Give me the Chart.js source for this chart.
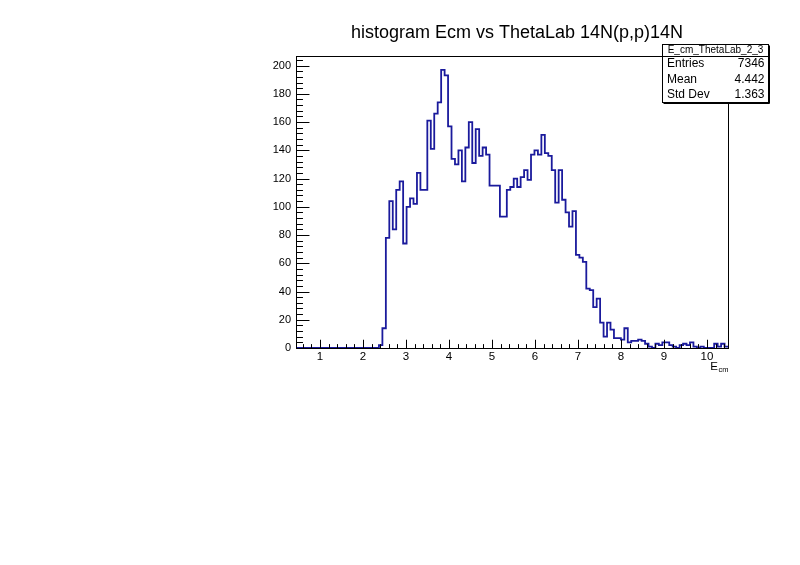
<!DOCTYPE html>
<html>
<head>
<meta charset="utf-8">
<title>histogram Ecm vs ThetaLab 14N(p,p)14N</title>
<script src="https://cdn.jsdelivr.net/npm/chart.js@4/dist/chart.umd.min.js"></script>
<style>
  html, body { margin: 0; padding: 0; background: #fff; }
  #wrap { width: 800px; height: 565px; }
</style>
</head>
<body>
<div id="wrap"><canvas id="ecmChart" width="800" height="565"></canvas></div>
<script>
// histogram range and bin contents
var xMin = 0.44;
var xMax = 10.49;
var binCounts = [
  0, 0, 0, 0, 0, 0, 0, 0, 0, 0,
  0, 0, 0, 0, 0, 0, 0, 0, 0, 0,
  0, 0, 0, 0, 2, 14, 78, 104, 84, 112,
  118, 74, 100, 106, 102, 124, 112, 112, 161, 141,
  166, 174, 197, 193, 157, 134, 130, 140, 118, 142,
  160, 131, 155, 136, 142, 137, 115, 115, 115, 93,
  93, 112, 114, 120, 114, 121, 126, 119, 137, 140,
  137, 151, 138, 136, 126, 103, 126, 105, 96, 86,
  97, 66, 64, 61, 42, 41, 29, 35, 18, 8,
  18, 13, 7, 7, 6, 14, 4, 5, 5, 6,
  5, 3, 1, 0, 3, 2, 4, 4, 2, 1,
  0, 2, 3, 2, 4, 1, 0, 1, 0, 0,
  0, 3, 1, 3, 1
];
var xTickLabels = [1, 2, 3, 4, 5, 6, 7, 8, 9, 10];
var yTickLabels = [0, 20, 40, 60, 80, 100, 120, 140, 160, 180, 200];
var yMax = 207;

var histTitle = "histogram Ecm vs ThetaLab 14N(p,p)14N";
var statsName = "E_cm_ThetaLab_2_3";
var statsLabels = ["Entries", "Mean", "Std Dev"];
var statsValues = ["7346", "4.442", "1.363"];

document.addEventListener("DOMContentLoaded", function () {
  var binWidth = (xMax - xMin) / binCounts.length;

  // one point per low bin edge, plus the closing upper edge
  var points = binCounts.map(function (c, i) {
    return { x: xMin + i * binWidth, y: c };
  });
  points.push({ x: xMax, y: binCounts[binCounts.length - 1] });

  var font = "Liberation Sans, Arial, Helvetica, sans-serif";

  // ROOT style frame: box, inward ticks, stats box, title
  var rootFrame = {
    id: "rootFrame",
    afterDatasetsDraw: function (chart) {
      var ctx = chart.ctx;
      var a = chart.chartArea;
      var xs = chart.scales.x;
      var ys = chart.scales.y;
      var L = Math.round(a.left) + 0.5, R = Math.round(a.right) + 0.5;
      var T = Math.round(a.top) + 0.5, B = Math.round(a.bottom) + 0.5;

      ctx.save();
      ctx.strokeStyle = "#000";
      ctx.lineWidth = 1;
      ctx.strokeRect(L, T, R - L, B - T);

      // x ticks (major on labels, minor every 0.2)
      ctx.beginPath();
      var xTickLen = 0.03 * (B - T);
      for (var v = Math.ceil(xMin / 0.2) * 0.2; v <= xMax + 1e-9; v += 0.2) {
        var major = Math.abs(v - Math.round(v)) < 1e-6;
        var px = Math.round(xs.getPixelForValue(v)) + 0.5;
        ctx.moveTo(px, B);
        ctx.lineTo(px, B - (major ? xTickLen : xTickLen / 2));
      }
      // y ticks (major every 20, minor every 4)
      var yTickLen = 0.03 * (R - L);
      for (var w = 0; w <= yMax; w += 4) {
        var py = Math.round(ys.getPixelForValue(w)) + 0.5;
        ctx.moveTo(L, py);
        ctx.lineTo(L + (w % 20 === 0 ? yTickLen : yTickLen / 2), py);
      }
      ctx.stroke();

      // title
      ctx.fillStyle = "#000";
      ctx.font = "18px " + font;
      ctx.textAlign = "center";
      ctx.textBaseline = "alphabetic";
      ctx.fillText(histTitle, 517, 38);

      // axis title E_cm
      ctx.textAlign = "right";
      ctx.font = "7.5px " + font;
      var sub = ctx.measureText("cm").width;
      ctx.fillText("cm", R, 371.5);
      ctx.font = "11.5px " + font;
      ctx.fillText("E", R - sub - 0.5, 369.5);

      // stats box
      var bx = 662.5, by = 44.5, bw = 106, bh = 58;
      ctx.fillStyle = "#fff";
      ctx.fillRect(bx, by, bw, bh);
      ctx.strokeRect(bx, by, bw, bh);
      ctx.beginPath();
      ctx.moveTo(bx + 1, by + bh + 1);
      ctx.lineTo(bx + bw + 1, by + bh + 1);
      ctx.lineTo(bx + bw + 1, by + 1);
      ctx.moveTo(bx, 56.5);
      ctx.lineTo(bx + bw, 56.5);
      ctx.stroke();

      ctx.fillStyle = "#000";
      ctx.textBaseline = "middle";
      ctx.textAlign = "center";
      ctx.font = "10px " + font;
      ctx.fillText(statsName, bx + bw / 2, 50.5);
      ctx.font = "12px " + font;
      var rowY = [64, 79.5, 95];
      statsLabels.forEach(function (lab, i) {
        ctx.textAlign = "left";
        ctx.fillText(lab, bx + 4.5, rowY[i]);
        ctx.textAlign = "right";
        ctx.fillText(statsValues[i], bx + bw - 4, rowY[i]);
      });
      ctx.restore();
    }
  };

  var ctx = document.getElementById("ecmChart").getContext("2d");
  var ecmChart = new Chart(ctx, {
    type: "line",
    data: {
      datasets: [
        {
          label: statsName,
          data: points,
          stepped: "before",
          borderColor: "#1a1a9c",
          borderWidth: 1.8,
          pointRadius: 0,
          fill: false,
        },
      ],
    },
    options: {
      responsive: false,
      animation: false,
      events: [],
      layout: { padding: { top: 55.7, right: 72, left: 0, bottom: 0 } },
      plugins: {
        legend: { display: false },
        title: { display: false },
        tooltip: { enabled: false },
      },
      scales: {
        x: {
          type: "linear",
          min: xMin,
          max: xMax,
          afterBuildTicks: function (s) {
            s.ticks = xTickLabels.map(function (v) { return { value: v }; });
          },
          afterFit: function (s) { s.height = 565 - 348; },
          grid: { display: false, drawTicks: false },
          border: { display: false },
          ticks: {
            autoSkip: false,
            maxRotation: 0,
            padding: 2,
            color: "#000",
            font: { family: font, size: 11.5 },
          },
        },
        y: {
          type: "linear",
          min: 0,
          max: yMax,
          afterBuildTicks: function (s) {
            s.ticks = yTickLabels.map(function (v) { return { value: v }; });
          },
          afterFit: function (s) { s.width = 296; },
          grid: { display: false, drawTicks: false },
          border: { display: false },
          ticks: {
            autoSkip: false,
            padding: 5,
            color: "#000",
            font: { family: font, size: 11 },
          },
        },
      },
    },
    plugins: [rootFrame],
  });
});
</script>
</body>
</html>
